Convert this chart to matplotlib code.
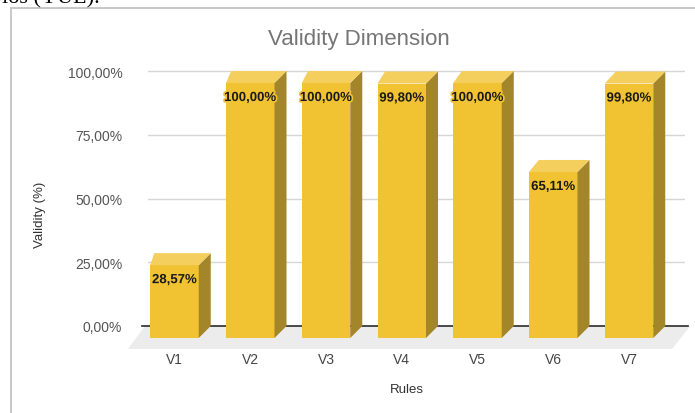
import matplotlib
matplotlib.use("Agg")
import matplotlib.pyplot as plt
from matplotlib.lines import Line2D
from matplotlib.patches import Polygon
import matplotlib.patheffects as pe

plt.rcParams['font.family'] = ['Liberation Sans', 'DejaVu Sans']

rules = ["V1", "V2", "V3", "V4", "V5", "V6", "V7"]
validity = [28.57, 100.00, 100.00, 99.80, 100.00, 65.11, 99.80]
yticks = [0, 25, 50, 75, 100]

W, H = 695, 414
fig = plt.figure(figsize=(W / 100, H / 100), dpi=100)

# axes placed in pixels: y=0 at 327px, y=100 at 72px, bar spacing 75.75px
px_y = 2.55          # pixels per percent
px_x = 75.75         # pixels per category
ylo, yhi = -10, 102
ax_left, ax_right = 148, 685
ax_top = 327 - yhi * px_y
ax_bot = 327 - ylo * px_y
ax = fig.add_axes([ax_left / W, 1 - ax_bot / H,
                   (ax_right - ax_left) / W, (ax_bot - ax_top) / H])
x0 = (ax_left - 174.5) / px_x
ax.set_xlim(x0, x0 + (ax_right - ax_left) / px_x)
ax.set_ylim(ylo, yhi)

front = "#f1c232"
top_c = "#f4cf5e"
side = "#a3852a"

# 3D-ish offsets
bw = 48.5 / px_x
dxr = 12 / px_x
dy = 12 / px_y

# floor
floor = Polygon([(-0.39, 0), (6.81, 0), (6.57, -9), (-0.614, -9)],
                closed=True, facecolor="#ececec", edgecolor="none",
                zorder=1, clip_on=False)
ax.add_patch(floor)

for t in yticks[1:]:
    ax.axhline(t, color="#d6d6d6", lw=1, zorder=0.5)
ax.plot([(142 - 174.5) / px_x, (688 - 174.5) / px_x], [0, 0],
        color="#2b2b2b", lw=1.2, zorder=2, clip_on=False)

for i, v in enumerate(validity):
    l, r = i - bw / 2, i + bw / 2
    dxl = (4 + i * 7 / 6) / px_x
    ax.add_patch(Polygon([(l, -dy), (r, -dy), (r, v - dy), (l, v - dy)],
                         facecolor=front, edgecolor="none", zorder=3))
    ax.add_patch(Polygon([(r, -dy), (r + dxr, 0), (r + dxr, v), (r, v - dy)],
                         facecolor=side, edgecolor="none", zorder=3))
    ax.add_patch(Polygon([(l, v - dy), (l + dxl, v), (r + dxr, v), (r, v - dy)],
                         facecolor=top_c, edgecolor="none", zorder=3))
    lbl = f"{v:.2f}".replace(".", ",") + "%"
    ax.text(i, v - dy - 15 / px_y, lbl, ha="center", va="center",
            fontsize=9.5, fontweight="bold", color="#1a1a1a", zorder=4,
            path_effects=[pe.withStroke(linewidth=2.5, foreground=front)])

ax.set_yticks(yticks)
ax.set_yticklabels([f"{t:.2f}".replace(".", ",") + "%" for t in yticks])
ax.set_xticks(range(len(rules)))
ax.set_xticklabels(rules)
ax.tick_params(axis="y", length=0, pad=18.5, labelsize=10, labelcolor="#555555")
ax.tick_params(axis="x", length=0, pad=0.5, labelsize=10, labelcolor="#444444")
for s in ax.spines.values():
    s.set_visible(False)

fig.text(359 / W, 1 - 40 / H, "Validity Dimension", ha="center", va="center",
         fontsize=16, color="#757575")
fig.text(407 / W, 1 - 390 / H, "Rules", ha="center", va="center",
         fontsize=9.5, color="#333333")
fig.text(40 / W, 1 - 215 / H, "Validity (%)", ha="center", va="center",
         rotation=90, fontsize=9.5, color="#333333")

# page frame and cut-off document text from the screenshot
fig.add_artist(Line2D([11 / W, 11 / W], [0, 1 - 9 / H], color="#c4c4c4", lw=1.3,
                      transform=fig.transFigure))
fig.add_artist(Line2D([11 / W, 1], [1 - 9 / H, 1 - 9 / H], color="#c4c4c4", lw=1.3,
                      transform=fig.transFigure))
fig.text(2 / W, 1 - 3 / H, "ios (YUL).", ha="left", va="baseline",
         fontsize=16, family="Liberation Serif", color="black")

fig.savefig("out.png", dpi=100)
